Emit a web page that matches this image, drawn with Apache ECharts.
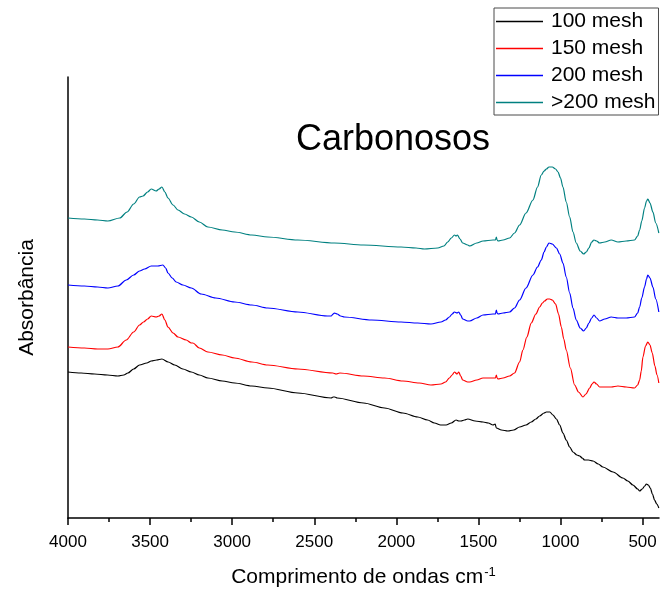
<!DOCTYPE html>
<html>
<head>
<meta charset="utf-8">
<script src="https://cdn.jsdelivr.net/npm/echarts@6/dist/echarts.min.js"></script>
<style>
  html, body { margin: 0; padding: 0; background: #fff; }
  #chart { width: 660px; height: 596px; }
</style>
</head>
<body>
<div id="chart"></div>
<script>
// FTIR spectra of carbonaceous samples by particle size, [wavenumber cm-1, absorbance (a.u.)]
const mesh100 = [
  [4000,1.46],[3920,1.45],[3838,1.44],[3760,1.43],[3696,1.42],[3660,1.43],[3635,1.45],[3600,1.49],[3564,1.53],
  [3520,1.55],[3493,1.57],[3460,1.58],[3428,1.59],[3390,1.56],[3350,1.53],[3300,1.49],[3249,1.46],
  [3200,1.43],[3148,1.40],[3060,1.37],[2985,1.35],[2880,1.32],[2783,1.30],[2600,1.25],[2397,1.20],
  [2385,1.21],[2375,1.21],[2360,1.20],[2200,1.15],[2072,1.10],[1960,1.05],[1870,1.01],[1810,0.98],
  [1768,0.95],[1730,0.93],[1697,0.93],[1665,0.95],[1636,0.98],[1620,0.97],[1606,0.97],[1585,0.98],
  [1565,0.99],[1520,0.97],[1472,0.96],[1440,0.95],[1411,0.93],[1398,0.94],[1391,0.90],[1360,0.88],
  [1320,0.87],[1285,0.88],[1249,0.91],[1210,0.93],[1178,0.96],[1150,0.99],[1127,1.02],[1100,1.05],
  [1086,1.06],[1065,1.06],[1046,1.03],[1025,0.99],[1005,0.93],[985,0.85],[965,0.78],[944,0.71],
  [924,0.66],[900,0.63],[883,0.62],[868,0.60],[853,0.58],[830,0.58],[802,0.57],[770,0.54],
  [742,0.51],[680,0.46],[620,0.40],[590,0.37],[559,0.33],[530,0.29],[518,0.27],[502,0.29],
  [487,0.32],[477,0.34],[465,0.33],[453,0.30],[440,0.24],[427,0.18],[414,0.14],[401,0.10]
];
const mesh150 = [
  [4000,1.71],[3900,1.70],[3820,1.69],[3757,1.69],[3696,1.71],[3645,1.78],[3600,1.86],[3564,1.93],
  [3540,1.96],[3515,1.99],[3493,2.02],[3463,2.01],[3445,2.02],[3428,2.04],[3410,1.98],[3391,1.91],
  [3360,1.85],[3330,1.81],[3280,1.78],[3249,1.75],[3239,1.75],[3200,1.70],[3148,1.66],[3060,1.63],
  [2985,1.60],[2880,1.56],[2783,1.53],[2600,1.49],[2387,1.45],[2367,1.44],[2344,1.45],[2200,1.42],
  [2072,1.40],[1960,1.37],[1860,1.35],[1789,1.33],[1728,1.34],[1700,1.36],[1677,1.40],[1660,1.43],
  [1646,1.46],[1630,1.44],[1620,1.46],[1608,1.42],[1596,1.38],[1565,1.36],[1553,1.36],[1510,1.38],
  [1472,1.40],[1411,1.40],[1396,1.40],[1391,1.43],[1386,1.40],[1381,1.39],[1350,1.40],[1310,1.42],
  [1280,1.45],[1249,1.56],[1229,1.68],[1205,1.81],[1178,1.95],[1150,2.04],[1127,2.11],[1110,2.15],
  [1097,2.17],[1080,2.19],[1066,2.19],[1050,2.18],[1030,2.14],[1012,2.04],[995,1.91],[980,1.79],
  [965,1.68],[940,1.50],[914,1.33],[890,1.26],[863,1.21],[845,1.24],[822,1.30],[808,1.34],
  [796,1.36],[780,1.34],[762,1.31],[730,1.31],[691,1.31],[650,1.32],[600,1.31],[549,1.30],
  [530,1.33],[518,1.38],[508,1.47],[498,1.61],[482,1.72],[468,1.76],[455,1.73],[441,1.65],
  [425,1.52],[412,1.43],[401,1.35]
];
const mesh200 = [
  [4000,2.33],[3900,2.32],[3820,2.31],[3757,2.30],[3696,2.32],[3645,2.38],[3600,2.43],[3564,2.47],
  [3533,2.49],[3493,2.52],[3452,2.52],[3422,2.53],[3405,2.50],[3391,2.45],[3365,2.40],[3341,2.36],
  [3300,2.33],[3249,2.30],[3189,2.24],[3100,2.20],[2985,2.16],[2880,2.13],[2783,2.10],[2600,2.06],
  [2420,2.02],[2397,2.02],[2385,2.04],[2377,2.05],[2360,2.04],[2340,2.02],[2316,2.01],[2150,1.98],
  [1971,1.96],[1870,1.95],[1789,1.94],[1728,1.96],[1700,1.98],[1677,2.01],[1660,2.04],[1646,2.06],
  [1630,2.05],[1620,2.06],[1608,2.03],[1596,1.99],[1565,1.97],[1553,1.97],[1510,2.00],[1472,2.03],
  [1411,2.04],[1396,2.04],[1391,2.08],[1386,2.05],[1381,2.04],[1350,2.05],[1310,2.06],[1280,2.10],
  [1249,2.18],[1210,2.30],[1168,2.43],[1140,2.51],[1117,2.58],[1100,2.66],[1086,2.71],[1070,2.75],
  [1050,2.74],[1025,2.70],[1005,2.64],[985,2.55],[965,2.41],[944,2.25],[924,2.10],[904,1.98],
  [880,1.90],[859,1.87],[843,1.90],[827,1.95],[810,2.00],[796,2.03],[780,2.00],[762,1.97],
  [730,1.99],[691,2.01],[650,2.00],[600,2.00],[549,2.01],[530,2.05],[518,2.11],[505,2.20],
  [488,2.31],[476,2.39],[468,2.43],[455,2.40],[437,2.31],[420,2.19],[401,2.06]
];
const meshOver200 = [
  [4000,3.00],[3900,2.99],[3820,2.98],[3757,2.97],[3685,3.00],[3640,3.06],[3600,3.14],[3564,3.21],
  [3543,3.22],[3515,3.26],[3493,3.29],[3463,3.27],[3445,3.29],[3428,3.31],[3410,3.26],[3391,3.20],
  [3360,3.13],[3330,3.08],[3290,3.04],[3249,3.01],[3200,2.96],[3148,2.91],[3060,2.88],[2985,2.86],
  [2880,2.83],[2783,2.81],[2600,2.78],[2377,2.75],[2200,2.73],[1971,2.71],[1880,2.70],[1829,2.69],
  [1748,2.70],[1710,2.72],[1687,2.76],[1665,2.80],[1646,2.83],[1636,2.82],[1628,2.83],[1612,2.79],
  [1596,2.75],[1565,2.73],[1553,2.72],[1510,2.75],[1472,2.77],[1411,2.78],[1396,2.78],[1391,2.81],
  [1386,2.78],[1381,2.77],[1350,2.78],[1310,2.80],[1280,2.85],[1249,2.93],[1210,3.05],[1168,3.18],
  [1140,3.31],[1117,3.43],[1100,3.47],[1086,3.49],[1070,3.51],[1050,3.51],[1030,3.49],[1015,3.46],
  [1000,3.40],[985,3.31],[965,3.16],[944,3.01],[924,2.86],[904,2.75],[880,2.67],[859,2.64],
  [843,2.66],[827,2.70],[810,2.76],[796,2.78],[780,2.77],[762,2.75],[730,2.76],[691,2.78],
  [650,2.76],[600,2.77],[549,2.78],[530,2.82],[518,2.88],[505,2.97],[488,3.10],[476,3.17],
  [468,3.19],[455,3.15],[437,3.06],[420,2.95],[401,2.85]
];

const seriesNames  = ['100 mesh', '150 mesh', '200 mesh', '>200 mesh'];
const seriesColors = ['#000000', '#ff0000', '#0000ff', '#008080'];
const seriesData   = [mesh100, mesh150, mesh200, meshOver200];

const majorTicks = [4000, 3500, 3000, 2500, 2000, 1500, 1000, 500];
const minorTicks = [3750, 3250, 2750, 2250, 1750, 1250, 750];

const FONT = '"Liberation Sans", Arial, sans-serif';

const chart = echarts.init(document.getElementById('chart'), null, { renderer: 'canvas' });

const xRange = { min: 400, max: 4000, inverse: true };

chart.setOption({
  backgroundColor: '#ffffff',
  animation: false,
  title: {
    text: 'Carbonosos',
    left: 388,
    top: 117,
    textAlign: 'center',
    textStyle: { fontFamily: FONT, fontSize: 36, fontWeight: 'normal', color: '#000' }
  },
  legend: {
    orient: 'vertical',
    left: 494,
    top: 8,
    padding: [3, 3, 2, 2],
    itemGap: 6,
    itemWidth: 47,
    itemHeight: 1.5,
    icon: 'rect',
    borderColor: '#4a4a4a',
    borderWidth: 1,
    backgroundColor: '#fff',
    data: seriesNames,
    textStyle: { fontFamily: FONT, fontSize: 21, color: '#000', lineHeight: 20, padding: [0, 0, 0, 3] }
  },
  grid: { left: 68, right: 1, top: 77, bottom: 78, containLabel: false },
  xAxis: [
    {
      type: 'value',
      ...xRange,
      name: '{a|Comprimento de ondas cm}{s|-1}',
      nameLocation: 'middle',
      nameGap: 48,
      nameTextStyle: {
        rich: {
          a: { fontFamily: FONT, fontSize: 21, color: '#000' },
          s: { fontFamily: FONT, fontSize: 13, color: '#000', verticalAlign: 'top', padding: [0, 0, 10, 1] }
        }
      },
      axisLine: { show: true, lineStyle: { color: '#000', width: 1.5 } },
      axisTick: { show: true, inside: false, length: 7, customValues: majorTicks, lineStyle: { color: '#000', width: 1.5 } },
      axisLabel: {
        show: true, margin: 16, customValues: majorTicks,
        formatter: v => String(v),
        fontFamily: FONT, fontSize: 17, color: '#000'
      },
      splitLine: { show: false }
    },
    {
      type: 'value',
      ...xRange,
      position: 'bottom',
      axisLine: { show: false },
      axisTick: { show: true, inside: false, length: 4, customValues: minorTicks, lineStyle: { color: '#000', width: 1.5 } },
      axisLabel: { show: false },
      splitLine: { show: false }
    }
  ],
  yAxis: {
    type: 'value',
    min: 0,
    max: 4.41,
    name: 'Absorbância',
    nameLocation: 'middle',
    nameGap: 30,
    nameTextStyle: { fontFamily: FONT, fontSize: 21, color: '#000' },
    axisLine: { show: true, lineStyle: { color: '#000', width: 1.5 } },
    axisTick: { show: false },
    axisLabel: { show: false },
    splitLine: { show: false }
  },
  series: seriesNames.map((name, i) => ({
    name,
    type: 'line',
    xAxisIndex: 0,
    data: seriesData[i],
    showSymbol: false,
    symbol: 'none',
    smooth: 0.3,
    smoothMonotone: 'x',
    color: seriesColors[i],
    lineStyle: { color: seriesColors[i], width: 1.2 }
  }))
});
</script>
</body>
</html>
